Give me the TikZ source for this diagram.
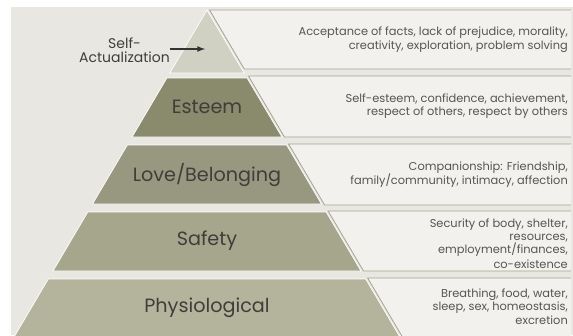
\documentclass[tikz,border=0pt]{standalone}
\usepackage{fontspec}
\setmainfont{Poppins}
\usetikzlibrary{positioning, calc}
\definecolor{pageBg}{HTML}{E8E7E2}
\definecolor{panelFill}{HTML}{F2F1ED}
\definecolor{panelLine}{HTML}{A6A58F}
\definecolor{lvlTop}{HTML}{D0D0C3}
\definecolor{lvlEsteem}{HTML}{8A8A6D}
\definecolor{lvlLove}{HTML}{989880}
\definecolor{lvlSafety}{HTML}{A6A68C}
\definecolor{lvlPhysio}{HTML}{B4B49C}
\definecolor{labelText}{HTML}{3E3E3A}
\definecolor{descText}{HTML}{555552}
\tikzset{%
  band/.style = {draw=white, line width=0.7pt},
  panel/.style = {fill=panelFill},
  panelEdge/.style = {draw=panelLine, line width=0.8pt},
  level/.style = {font=\fontsize{19.2}{19}\selectfont, text=labelText, inner sep=0pt},
  needs/.style = {font=\fontsize{11.4}{13.2}\selectfont, text=descText,
                  align=right, anchor=east, inner sep=0pt},
  side/.style = {font=\fontsize{14}{14}\selectfont, text=labelText,
                 align=center, inner sep=0pt},
  path/.style = {draw=black!80, line width=1.6pt}
  }

\begin{document}
\begin{tikzpicture}[x=1pt, y=-1pt, >=latex]
    \def\apexX{207}
    \def\apexY{10}
    \def\slope{0.59}
    \def\rightX{571}
    \useasboundingbox (0,0) rectangle (573,335);
    \fill[white] (0,0) rectangle (573,335);
    \fill[pageBg] (11,7) rectangle (573,335);

    % right hand panels: top/bottom
    \foreach \t/\b in {10/69, 76/137, 144/205, 211/271, 278/340} {
      \pgfmathsetmacro\xt{\apexX+\slope*(\t-\apexY)+2.5}
      \pgfmathsetmacro\xb{\apexX+\slope*(\b-\apexY)+2.5}
      \fill[panel] (\xt,\t) -- (\rightX,\t) -- (\rightX,\b) -- (\xb,\b) -- cycle;
      \draw[panelEdge] (\rightX,\t) -- (\xt,\t) -- (\xb,\b) -- (\rightX,\b);
    }

    % pyramid bands: top/bottom/colour
    \foreach \t/\b/\c in {10/73/lvlTop, 78/137/lvlEsteem, 145/204/lvlLove,
                          212/271/lvlSafety, 279/340/lvlPhysio} {
      \pgfmathsetmacro\dt{\slope*(\t-\apexY)}
      \pgfmathsetmacro\db{\slope*(\b-\apexY)}
      \filldraw[band, fill=\c] (\apexX-\dt,\t) -- (\apexX+\dt,\t)
          -- (\apexX+\db,\b) -- (\apexX-\db,\b) -- cycle;
    }

    \node (esteem)  [level] at (\apexX,107) {Esteem};
    \node (love)    [level] at (\apexX,175) {Love/Belonging};
    \node (safety)  [level] at (\apexX,241) {Safety};
    \node (physio)  [level] at (\apexX,308) {Physiological};

    \node (selfAct) [side] at (124.5,50) {Self-\\Actualization};
    \coordinate (selfTip) at (205,49);
    \path[->] (selfAct.east |- selfTip) edge [path] (selfTip);

    \node (selfNeeds)   [needs] at (568,40)
        {Acceptance of facts, lack of prejudice, morality,\\[0.8pt]creativity, exploration, problem solving};
    \node (esteemNeeds) [needs] at (568,106)
        {Self-esteem, confidence, achievement,\\respect of others, respect by others};
    \node (loveNeeds)   [needs] at (568,174.5)
        {Companionship: Friendship,\\family/community, intimacy, affection};
    \node (safetyNeeds) [needs] at (568,243.5)
        {Security of body, shelter,\\resources,\\employment/finances,\\[2pt]co-existence};
    \node (physioNeeds) [needs] at (568,306.5)
        {Breathing, food, water,\\sleep, sex, homeostasis,\\excretion};
\end{tikzpicture}
\end{document}
